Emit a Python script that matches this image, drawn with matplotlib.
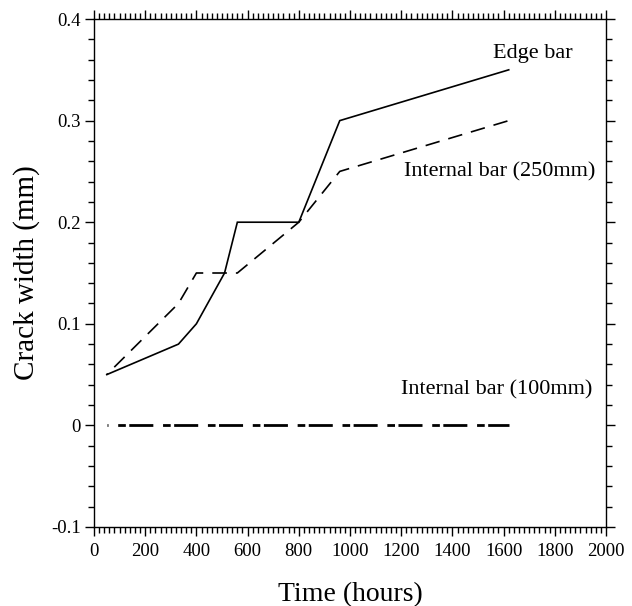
import numpy as np
import matplotlib
matplotlib.use("Agg")
import matplotlib.pyplot as plt
from matplotlib.ticker import MultipleLocator

plt.rcParams['font.family'] = ['Liberation Serif', 'DejaVu Serif']
plt.rcParams['axes.unicode_minus'] = False
plt.rcParams['lines.scale_dashes'] = False

# data
edge_t = [50, 330, 400, 510, 560, 800, 960, 1620]
edge_w = [0.05, 0.08, 0.10, 0.15, 0.20, 0.20, 0.30, 0.35]

int250_t = [50, 330, 400, 560, 800, 960, 1620]
int250_w = [0.05, 0.12, 0.15, 0.15, 0.20, 0.25, 0.30]

int100_t = [50, 1620]
int100_w = [0.0, 0.0]

fig = plt.figure(figsize=(6.32, 6.06), dpi=100)
ax = fig.add_axes([0.1487, 0.1304, 0.8102, 0.8382])

ax.plot(edge_t, edge_w, color='black', lw=1.2, solid_joinstyle='miter')
ax.plot(int250_t, int250_w, color='black', lw=1.2,
        linestyle=(9.4, (10.5, 6.5)))
ax.plot(int100_t, int100_w, color='black', lw=2.0,
        linestyle=(24.6, (5.5, 2.5, 17.3, 7.0)))

ax.text(1713, 0.3665, "Edge bar", fontsize=16, ha='center', va='center')
ax.text(1586, 0.2494, "Internal bar (250mm)", fontsize=16, ha='center', va='center')
ax.text(1572, 0.0348, "Internal bar (100mm)", fontsize=16, ha='center', va='center')

ax.set_xlim(0, 2000)
ax.set_ylim(-0.1, 0.4)
ax.xaxis.set_major_locator(MultipleLocator(200))
ax.xaxis.set_minor_locator(MultipleLocator(20))
ax.yaxis.set_major_locator(MultipleLocator(0.1))
ax.yaxis.set_minor_locator(MultipleLocator(0.02))
ax.set_yticks([-0.1, 0, 0.1, 0.2, 0.3, 0.4])
ax.set_yticklabels(["-0.1", "0", "0.1", "0.2", "0.3", "0.4"])

ax.tick_params(which='both', direction='out', top=True, right=True,
               labelsize=13.5, width=1.0, colors='black')
ax.tick_params(which='major', length=6.5, pad=3)
ax.tick_params(which='minor', length=4)
ax.tick_params(axis='x', which='major', pad=5)
for s in ax.spines.values():
    s.set_linewidth(1.0)

ax.set_xlabel("Time (hours)", fontsize=20, labelpad=16)
ax.set_ylabel("Crack width (mm)", fontsize=21, labelpad=8)

fig.savefig("out.png", dpi=100)
